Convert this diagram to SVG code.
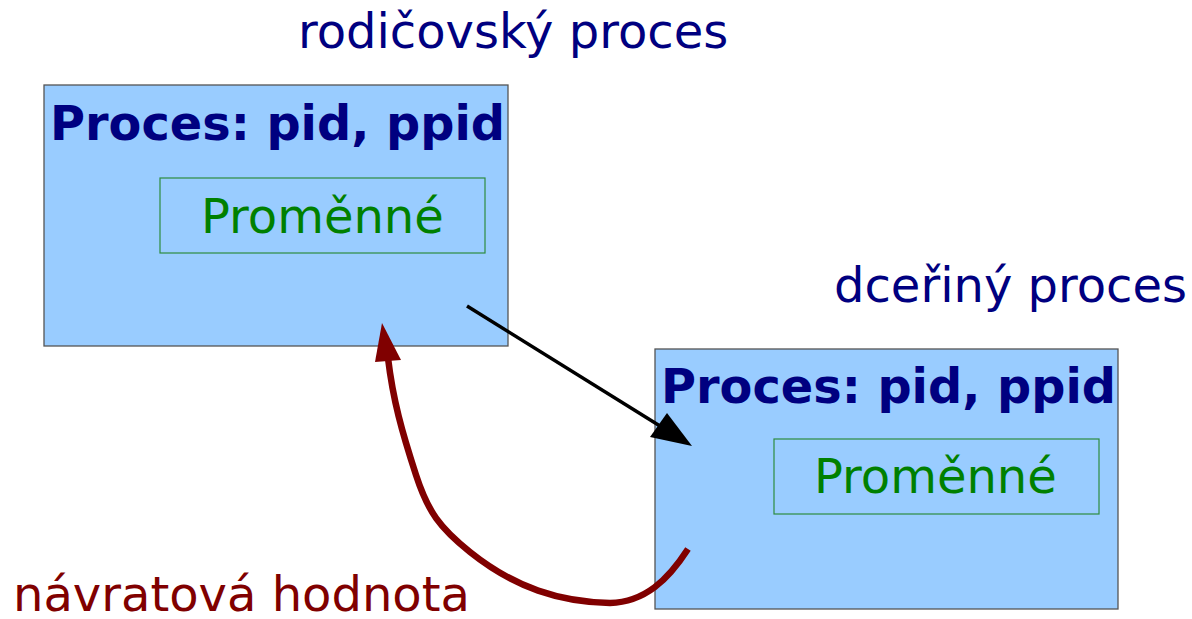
<svg xmlns="http://www.w3.org/2000/svg" width="1192" height="619" viewBox="0 0 1192 619">
<style>
.box{fill:#99ccff;stroke:#555;stroke-width:1.3}
.inner{fill:none;stroke:#2e8b3e;stroke-width:1.2}
.title{font-family:"DejaVu Sans",sans-serif;font-weight:bold;font-size:47.8px;fill:#000080}
.var{font-family:"DejaVu Sans",sans-serif;font-size:48px;fill:#008000}
.lbl{font-family:"DejaVu Sans",sans-serif;font-size:48px}
</style>
<rect width="1192" height="619" fill="#fff"/>
<text class="lbl" x="298" y="48" fill="#000080">rodičovský proces</text>
<text class="lbl" x="834" y="302" fill="#000080">dceřiný proces</text>
<g id="parent">
<rect class="box" x="44" y="85" width="464" height="261"/>
<text class="title" x="50" y="140">Proces: pid, ppid</text>
<rect class="inner" x="160" y="178" width="325" height="75"/>
<text class="var" x="201" y="233">Proměnné</text>
</g>
<g id="child">
<rect class="box" x="655" y="349" width="463" height="260"/>
<text class="title" x="661" y="403">Proces: pid, ppid</text>
<rect class="inner" x="774" y="439" width="325" height="75"/>
<text class="var" x="814" y="493">Proměnné</text>
</g>
<g id="connectors">
<line x1="467" y1="306" x2="660" y2="426" stroke="#000" stroke-width="3.5"/>
<polygon points="692,446 650,437 667,413" fill="#000"/>
<path d="M688,549 C668,580 645,602 610,603 C560,602 515,588 470,552 C440,528 428,512 416,475 C402,432 393,400 388,358" fill="none" stroke="#800000" stroke-width="6.5"/>
<polygon points="382,323 401,360 375,362" fill="#800000"/>
</g>
<text class="lbl" x="13" y="611" fill="#800000">návratová hodnota</text>
</svg>
